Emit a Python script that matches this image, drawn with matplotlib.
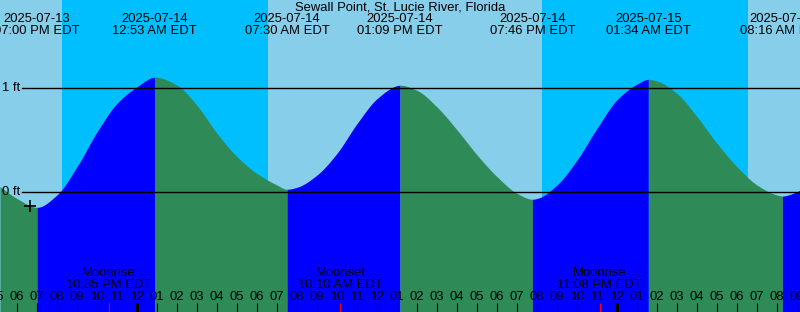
import numpy as np
import matplotlib.pyplot as plt
import matplotlib.transforms as mtransforms

# hours relative to 2025-07-14 00:00 EDT, tide heights in ft
hours = [-6.85, -6.0, -5.0, -4.0, -3.0, -2.0, -1.0, 0.0, 0.883, 1.0, 2.0, 3.0, 4.0, 5.0,
         6.0, 7.0, 7.5, 8.0, 9.0, 10.0, 11.0, 12.0, 13.0, 13.15, 14.0, 15.0, 16.0, 17.0,
         18.0, 19.0, 19.767, 20.0, 21.0, 22.0, 23.0, 24.0, 25.0, 25.567, 26.0, 27.0, 28.0,
         29.0, 30.0, 31.0, 32.0, 32.267, 33.0, 33.15]
heights = [0.054, -0.06, -0.145, -0.025, 0.246, 0.58, 0.855, 1.015, 1.106, 1.105, 1.03,
           0.835, 0.567, 0.342, 0.18, 0.07, 0.029, 0.048, 0.166, 0.375, 0.66, 0.9, 1.025,
           1.03, 0.98, 0.82, 0.6, 0.36, 0.15, -0.01, -0.067, -0.06, 0.07, 0.31, 0.615, 0.89,
           1.04, 1.086, 1.07, 0.95, 0.727, 0.47, 0.246, 0.07, -0.026, -0.036, 0.006, 0.02]

# high / low tide events shown in the header
event_hours = [-5.0, 0.883, 7.5, 13.15, 19.767, 25.567, 32.267]
event_dates = ["2025-07-13", "2025-07-14", "2025-07-14", "2025-07-14",
               "2025-07-14", "2025-07-15", "2025-07-15"]
event_times = ["07:00 PM EDT", "12:53 AM EDT", "07:30 AM EDT", "01:09 PM EDT",
               "07:46 PM EDT", "01:34 AM EDT", "08:16 AM EDT"]

# night periods (sunset -> sunrise)
night_start = [-3.75, 20.25]
night_end = [6.55, 30.55]

# moon events
moon_hours = [-1.417, 10.167, 23.133]
moon_names = ["Moonrise", "Moonset", "Moonrise"]
moon_times = ["10:35 PM EDT", "10:10 AM EDT", "11:08 PM EDT"]

now_hour, now_height = -5.35, -0.13

x0, x1 = -6.85, 33.15
y0, y1 = -1.151, 1.849
fs = 9.36
plt.rcParams['font.family'] = ['Liberation Sans', 'DejaVu Sans']


def smooth(xs, ys, n=12):
    # monotone cubic (Fritsch-Carlson) drawn through the read points
    xs, ys = np.asarray(xs), np.asarray(ys)
    d = np.diff(ys) / np.diff(xs)
    m = np.zeros_like(ys)
    m[0], m[-1] = d[0], d[-1]
    for i in range(1, len(xs) - 1):
        if d[i - 1] * d[i] > 0:
            w1 = 2 * (xs[i + 1] - xs[i]) + (xs[i] - xs[i - 1])
            w2 = (xs[i + 1] - xs[i]) + 2 * (xs[i] - xs[i - 1])
            m[i] = (w1 + w2) / (w1 / d[i - 1] + w2 / d[i])
    px, py = [], []
    for i in range(len(xs) - 1):
        hh = xs[i + 1] - xs[i]
        t = np.linspace(0, 1, n, endpoint=False)
        h00 = 2 * t**3 - 3 * t**2 + 1
        h10 = t**3 - 2 * t**2 + t
        h01 = -2 * t**3 + 3 * t**2
        h11 = t**3 - t**2
        px.append(xs[i] + t * hh)
        py.append(h00 * ys[i] + h10 * hh * m[i] + h01 * ys[i + 1] + h11 * hh * m[i + 1])
    px.append([xs[-1]])
    py.append([ys[-1]])
    return np.concatenate(px), np.concatenate(py)


fig = plt.figure(figsize=(8, 3.12), dpi=100)
ax = fig.add_axes([0, 0, 1, 1])
ax.set_xlim(x0, x1)
ax.set_ylim(y0, y1)
ax.axis('off')
ax.add_patch(plt.Rectangle((x0, y0), x1 - x0, y1 - y0, color='#87CEEB', zorder=0))
for s, e in zip(night_start, night_end):
    ax.axvspan(s, e, color='#00BFFF', zorder=1, lw=0)

# tide fill, blue while rising and green while falling
h, v = smooth(hours, heights)
bounds = [x0] + event_hours + [x1]
for a, b in zip(bounds[:-1], bounds[1:]):
    m = (h >= a - 1e-6) & (h <= b + 1e-6)
    hs, vs = h[m], v[m]
    col = '#0000FF' if vs[-1] > vs[0] else '#2E8B57'
    ax.fill_between(hs, y0, vs, color=col, lw=0, zorder=2)

# ft lines
for lvl in [0, 1]:
    ax.axhline(lvl, xmin=22 / 800, xmax=1, color='black', lw=1.0, zorder=3)
    ax.text(-6.75, lvl, f"{lvl} ft", fontsize=fs, va='center', ha='left', zorder=4)

ax.plot([now_hour], [now_height], marker='+', color='black', ms=9, mew=1.2, zorder=4)

top = mtransforms.blended_transform_factory(ax.transData, ax.transAxes)
ax.text(0.5, 1 - 7.5 / 312, "Sewall Point, St. Lucie River, Florida", transform=ax.transAxes,
        ha='center', va='center', fontsize=fs, zorder=5)
for eh, d, t in zip(event_hours, event_dates, event_times):
    ax.text(eh, 1 - 19.5 / 312, d, transform=top, ha='center', va='center', fontsize=fs, zorder=5)
    ax.text(eh, 1 - 31.5 / 312, t, transform=top, ha='center', va='center', fontsize=fs, zorder=5)

for mh, n, t in zip(moon_hours, moon_names, moon_times):
    ax.text(mh, 1 - 273.5 / 312, n, transform=top, ha='center', va='center', fontsize=fs, zorder=5)
    ax.text(mh, 1 - 285.5 / 312, t, transform=top, ha='center', va='center', fontsize=fs, zorder=5)
    ax.vlines(mh, 0, 9 / 312, transform=top, color='red', lw=0.8, zorder=6)

# hour ticks and labels along the bottom
for hr in range(-7, 34):
    lab = f"{(hr % 12) or 12:02d}"
    ax.text(hr, 1 - 297.5 / 312, lab, transform=top, ha='center', va='center', fontsize=fs, zorder=5)
    ax.vlines(hr, 0, 9 / 312, transform=top, color='black',
              lw=2.2 if hr % 24 == 0 else 0.8, zorder=5)

fig.savefig("out.png", dpi=100)
